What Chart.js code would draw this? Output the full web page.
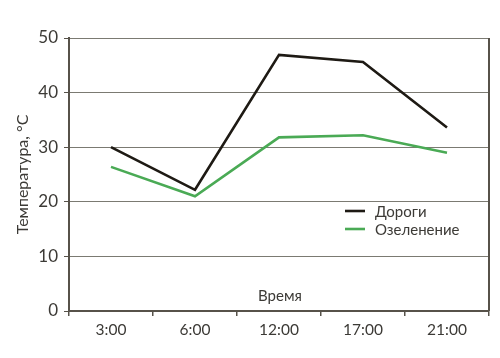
<!DOCTYPE html>
<html><head><meta charset="utf-8">
<script src="https://cdn.jsdelivr.net/npm/chart.js@4/dist/chart.umd.min.js"></script>
<style>html,body{margin:0;padding:0;background:#fff}#wrap{width:500px;height:358px}</style>
</head><body><div id="wrap"><canvas id="c" width="500" height="358"></canvas></div>
<script>
const categories = ['3:00', '6:00', '12:00', '17:00', '21:00'];
const roads = [30, 22.2, 46.9, 45.6, 33.6];
const greenery = [26.4, 21.0, 31.8, 32.2, 29.0];
const seriesNames = ['Дороги', 'Озеленение'];
const yTitle = 'Температура, °C';
const xTitle = 'Время';
const FONT = 'Lato, "Open Sans", sans-serif';
const AXIS = '#57524a';
const TEXT = '#3c3a36';

const decor = {
  id: 'decor',
  afterDraw(chart) {
    const {ctx, chartArea: a} = chart;
    ctx.save();
    ctx.strokeStyle = AXIS; ctx.lineWidth = 2;
    ctx.beginPath(); ctx.moveTo(a.right, a.top); ctx.lineTo(a.right, a.bottom); ctx.stroke();
    ctx.fillStyle = TEXT; ctx.font = '15px ' + FONT;
    ctx.textAlign = 'center'; ctx.textBaseline = 'middle';
    ctx.fillText(xTitle, (a.left + a.right) / 2 + 1, a.bottom - 15);
    // legend
    ctx.textAlign = 'left';
    chart.data.datasets.forEach((d, i) => {
      const y = 211 + i * 18;
      ctx.strokeStyle = d.borderColor; ctx.lineWidth = 2.6;
      ctx.beginPath(); ctx.moveTo(345, y); ctx.lineTo(365, y); ctx.stroke();
      ctx.fillStyle = TEXT;
      ctx.fillText(d.label, 375, y + 1);
    });
    ctx.restore();
  }
};

new Chart(document.getElementById('c'), {
  type: 'line',
  data: {
    labels: categories,
    datasets: [
      {label: seriesNames[0], data: roads, borderColor: '#1e1a14', backgroundColor: '#1e1a14', borderWidth: 2.6, pointRadius: 0, tension: 0},
      {label: seriesNames[1], data: greenery, borderColor: '#4aaa55', backgroundColor: '#4aaa55', borderWidth: 2.6, pointRadius: 0, tension: 0}
    ]
  },
  options: {
    responsive: false, animation: false, devicePixelRatio: 1,
    layout: {padding: {left: 0, top: 38, right: 11, bottom: 0}},
    plugins: {
      tooltip: {enabled: false},
      legend: {display: false}
    },
    scales: {
      x: {
        offset: true,
        grid: {offset: true, drawOnChartArea: false, drawTicks: true, tickLength: 5, color: AXIS, lineWidth: 1.5},
        border: {color: AXIS, width: 2},
        ticks: {color: TEXT, font: {family: FONT, size: 15.5}, padding: 5, maxRotation: 0},
        afterFit(s) { s.height = 47; }
      },
      y: {
        min: 0, max: 50,
        ticks: {stepSize: 10, color: TEXT, font: {family: FONT, size: 17}, padding: 6},
        grid: {color: '#7b7a72', lineWidth: 1, tickLength: 5, tickColor: AXIS},
        border: {color: AXIS, width: 2},
        title: {display: true, text: yTitle, color: TEXT, font: {family: FONT, size: 16}, padding: {top: 13, bottom: 0}},
        afterFit(s) { s.width = 69; }
      }
    }
  },
  plugins: [decor]
});
</script></body></html>
